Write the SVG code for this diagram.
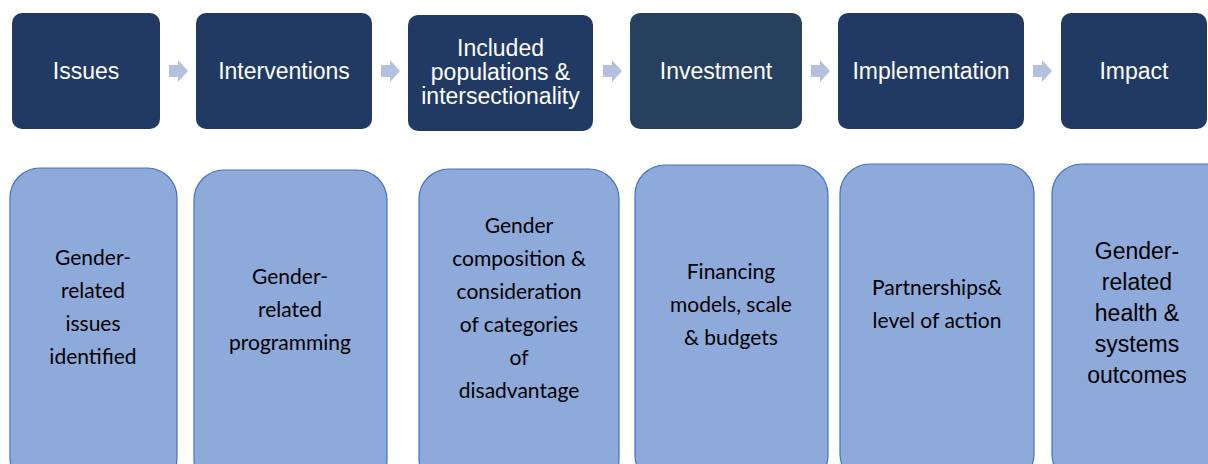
<svg xmlns="http://www.w3.org/2000/svg" width="1208" height="464" viewBox="0 0 1208 464">
<style>
.top{fill:#213a64}
.inv{fill:#27405f}
.tt{font-family:"Liberation Sans",Arial,sans-serif;font-size:23px;fill:#ffffff;text-anchor:middle}
.bot{fill:#8eaadb;stroke:#4472c4;stroke-width:1.2}
.bt{font-family:Lato,"Open Sans",sans-serif;font-size:21px;fill:#000000;text-anchor:middle}
.bta{font-family:"Liberation Sans",Arial,sans-serif;font-size:23px;fill:#000000;text-anchor:middle}
.arr{fill:#b4c0e0}
</style>
<rect width="1208" height="464" fill="#ffffff"/>
<g id="connectors">
<polygon class="arr" points="169,65 178,65 178,60 188,71 178,82 178,77 169,77"/>
<polygon class="arr" points="381,65 390,65 390,60 400,71 390,82 390,77 381,77"/>
<polygon class="arr" points="603,65 612,65 612,60 622,71 612,82 612,77 603,77"/>
<polygon class="arr" points="811,65 820,65 820,60 830,71 820,82 820,77 811,77"/>
<polygon class="arr" points="1033,65 1042,65 1042,60 1052,71 1042,82 1042,77 1033,77"/>
</g>
<g id="issues"><rect class="top" x="12" y="13" width="148" height="116" rx="10"/><text class="tt" x="86" y="79">Issues</text></g>
<g id="interventions"><rect class="top" x="196" y="13" width="176" height="116" rx="10"/><text class="tt" x="284" y="79">Interventions</text></g>
<g id="included"><rect class="top" x="408" y="15" width="185" height="116" rx="10"/><text class="tt" x="500.5" y="56">Included</text><text class="tt" x="500.5" y="80">populations &amp;</text><text class="tt" x="500.5" y="104">intersectionality</text></g>
<g id="investment"><rect class="inv" x="630" y="13" width="172" height="116" rx="10"/><text class="tt" x="716" y="79">Investment</text></g>
<g id="implementation"><rect class="top" x="838" y="13" width="186" height="116" rx="10"/><text class="tt" x="931" y="79">Implementation</text></g>
<g id="impact"><rect class="top" x="1061" y="13" width="146" height="116" rx="10"/><text class="tt" x="1134" y="79">Impact</text></g>
<g id="b1"><rect class="bot" x="10" y="168" width="167" height="320" rx="30"/>
<text class="bt" x="93" y="265">Gender-</text><text class="bt" x="93" y="298">related</text><text class="bt" x="93" y="331">issues</text><text class="bt" x="93" y="364">identified</text></g>
<g id="b2"><rect class="bot" x="194" y="170" width="193" height="320" rx="30"/>
<text class="bt" x="290" y="284">Gender-</text><text class="bt" x="290" y="317">related</text><text class="bt" x="290" y="350">programming</text></g>
<g id="b3"><rect class="bot" x="419" y="169" width="200" height="320" rx="30"/>
<text class="bt" x="519" y="233">Gender</text><text class="bt" x="519" y="266">composition &amp;</text><text class="bt" x="519" y="299">consideration</text><text class="bt" x="519" y="332">of categories</text><text class="bt" x="519" y="365">of</text><text class="bt" x="519" y="398">disadvantage</text></g>
<g id="b4"><rect class="bot" x="635" y="165" width="193" height="320" rx="30"/>
<text class="bt" x="731" y="279">Financing</text><text class="bt" x="731" y="312">models, scale</text><text class="bt" x="731" y="345">&amp; budgets</text></g>
<g id="b5"><rect class="bot" x="840" y="164" width="194" height="320" rx="30"/>
<text class="bt" x="937" y="295">Partnerships&amp;</text><text class="bt" x="937" y="328">level of action</text></g>
<g id="b6"><rect class="bot" x="1052" y="164" width="190" height="320" rx="30"/>
<text class="bta" x="1137" y="259">Gender-</text><text class="bta" x="1137" y="290">related</text><text class="bta" x="1137" y="321">health &amp;</text><text class="bta" x="1137" y="352">systems</text><text class="bta" x="1137" y="383">outcomes</text></g>
</svg>
